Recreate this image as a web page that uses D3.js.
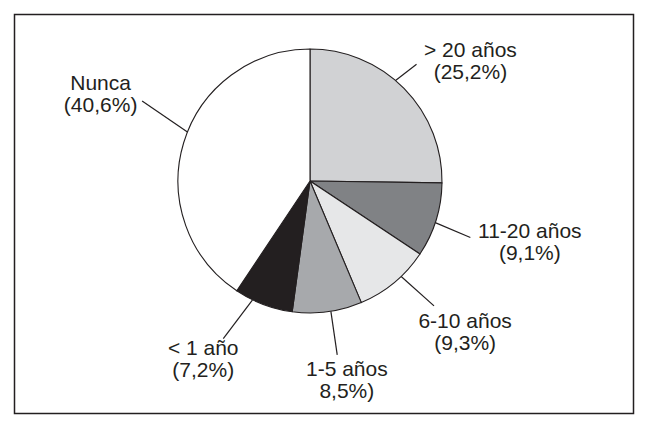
<!DOCTYPE html>
<html lang="es">
<head>
    <meta charset="UTF-8">
    <title>Pie chart</title>
    <script src="https://cdn.jsdelivr.net/npm/d3@7"></script>
    <style>
        body { margin: 0; background: #fff; }
        text { font-family: "Liberation Sans", Arial, sans-serif; font-size: 21px; fill: #231f20; }
    </style>
</head>
<body>
    <script>
        // Data
        var categories = ["> 20 años", "11-20 años", "6-10 años", "1-5 años", "< 1 año", "Nunca"];
        var values = [25.2, 9.1, 9.3, 8.5, 7.2, 40.6];
        var valueLabels = ["(25,2%)", "(9,1%)", "(9,3%)", "8,5%)", "(7,2%)", "(40,6%)"];
        var colors = ["#d1d2d4", "#808285", "#e6e7e8", "#a7a9ac", "#231f20", "#ffffff"];

        // Label layout: leader start angle, end angle, end radius; label angle, radius (degrees, px)
        var leaders = [[40.4, 42.4, 158], [108.4, 109.4, 170], [136.3, 135.2, 176],
                       [170.9, 171.1, 176], [205.8, 208.8, 180], [291.8, 295.5, 186]];
        var labelPolar = [[53.1, 200.6], [105.4, 228], [134.2, 216.4],
                          [169.5, 202.1], [211, 207.3], [292.6, 226.8]];

        var w = 647, h = 429;
        var cx = 310, cy = 181, r = 132;
        var rad = Math.PI / 180;

        var svg = d3.select("body")
            .append("svg")
            .attr("width", w)
            .attr("height", h);

        // frame
        svg.append("rect")
            .attr("x", 14.5).attr("y", 14.5)
            .attr("width", 619).attr("height", 399)
            .attr("fill", "none")
            .attr("stroke", "#231f20")
            .attr("stroke-width", 1.5);

        var data = categories.map(function(c, i) {
            return { name: c, value: values[i], pct: valueLabels[i], color: colors[i], i: i };
        });

        var pie = d3.pie()
            .sort(null)
            .value(function(d) { return d.value; })
            .startAngle(0)
            .endAngle(2 * Math.PI * d3.sum(values) / 99.9);

        var arc = d3.arc().innerRadius(0).outerRadius(r);

        var g = svg.append("g").attr("transform", "translate(" + cx + "," + cy + ")");

        g.selectAll("path")
            .data(pie(data))
            .enter()
            .append("path")
            .attr("d", arc)
            .attr("fill", function(d) { return d.data.color; })
            .attr("stroke", "#231f20")
            .attr("stroke-width", 1.1)
            .attr("stroke-linejoin", "round");

        // leader lines
        g.selectAll("line")
            .data(leaders)
            .enter()
            .append("line")
            .attr("x1", function(d) { return d3.pointRadial(d[0] * rad, r)[0]; })
            .attr("y1", function(d) { return d3.pointRadial(d[0] * rad, r)[1]; })
            .attr("x2", function(d) { return d3.pointRadial(d[1] * rad, d[2])[0]; })
            .attr("y2", function(d) { return d3.pointRadial(d[1] * rad, d[2])[1]; })
            .attr("stroke", "#231f20")
            .attr("stroke-width", 1.2);

        // labels
        var labels = g.selectAll("text.label")
            .data(data)
            .enter()
            .append("text")
            .attr("class", "label")
            .attr("text-anchor", "middle")
            .attr("transform", function(d) {
                var p = d3.pointRadial(labelPolar[d.i][0] * rad, labelPolar[d.i][1]);
                return "translate(" + p[0] + "," + p[1] + ")";
            });

        labels.append("tspan")
            .attr("x", 0).attr("y", -4)
            .text(function(d) { return d.name; });

        labels.append("tspan")
            .attr("x", 0).attr("y", 18)
            .text(function(d) { return d.pct; });
    </script>
</body>
</html>
